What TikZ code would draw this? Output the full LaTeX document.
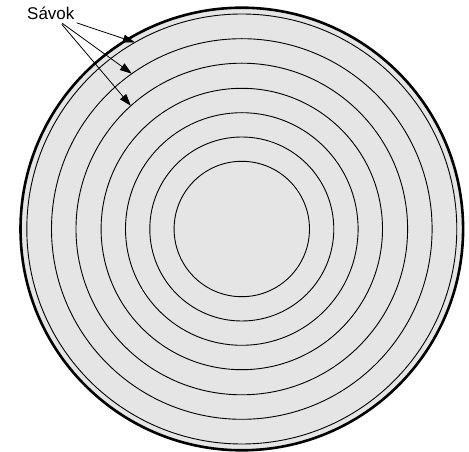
\documentclass[tikz,border=0pt]{standalone}
\usepackage{fontspec}
\setmainfont{Liberation Sans}
\usetikzlibrary{arrows.meta}

\begin{document}
\begin{tikzpicture}[x=1pt, y=1pt, every node/.style={font=\fontsize{17}{20}\selectfont}, rim/.style={draw=black, line width=2.6pt, fill=gray!20}, track/.style={draw=black, line width=0.9pt}, arrow/.style={-{Triangle[length=12pt, width=8pt]}, line width=0.8pt}]
\useasboundingbox (-241.8,-223) rectangle (227.2,229);
\path[rim] (0,0) circle (221.3);
\draw[track] (0,0) circle (215);
\draw[track] (0,0) circle (190.3);
\draw[track] (0,0) circle (165.8);
\draw[track] (0,0) circle (140.7);
\draw[track] (0,0) circle (116.3);
\draw[track] (0,0) circle (92);
\draw[track] (0,0) circle (67.7);
\node[anchor=base west, inner sep=0pt] (lbl) at (-214.8,209.5) {Sávok};
\coordinate (t1) at (119.8:215);
\coordinate (t2) at (125.3:190.3);
\coordinate (t3) at (132:165.8);
\draw[arrow] ([shift={(2,-3)}]lbl.south east) -- (t1);
\draw[arrow] ([shift={(11.5,-3.5)}]lbl.south) -- (t2);
\draw[arrow] ([shift={(11,-4.5)}]lbl.south) -- (t3);
\end{tikzpicture}
\end{document}
